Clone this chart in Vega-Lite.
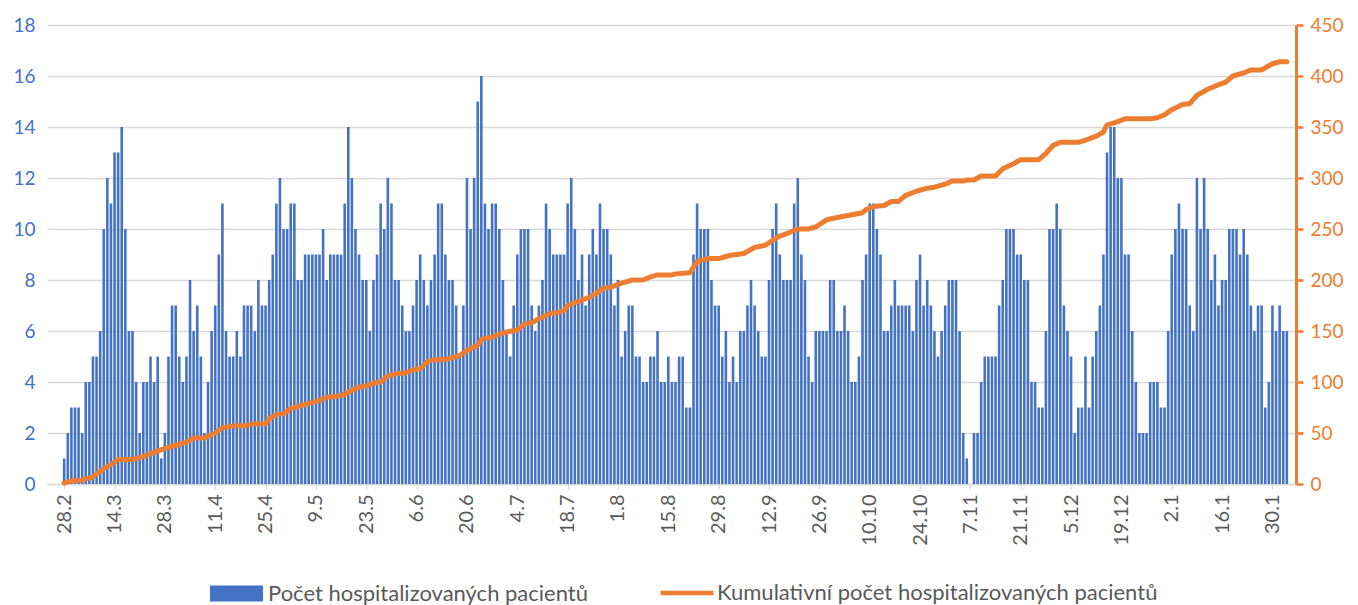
{
  "$schema": "https://vega.github.io/schema/vega-lite/v6.json",
  "width": 1249,
  "height": 459,
  "autosize": {"type": "none"},
  "padding": {"left": 47, "top": 25, "right": 62, "bottom": 121},
  "background": "white",
  "config": {"view": {"stroke": null}, "font": "Lato"},
  "datasets": {
    "bars": [
      {"date":"2021-02-28","n":1},
      {"date":"2021-03-01","n":2},{"date":"2021-03-02","n":3},{"date":"2021-03-03","n":3},{"date":"2021-03-04","n":3},{"date":"2021-03-05","n":2},{"date":"2021-03-06","n":4},{"date":"2021-03-07","n":4},{"date":"2021-03-08","n":5},{"date":"2021-03-09","n":5},{"date":"2021-03-10","n":6},
      {"date":"2021-03-11","n":10},{"date":"2021-03-12","n":12},{"date":"2021-03-13","n":11},{"date":"2021-03-14","n":13},{"date":"2021-03-15","n":13},{"date":"2021-03-16","n":14},{"date":"2021-03-17","n":10},{"date":"2021-03-18","n":6},{"date":"2021-03-19","n":6},{"date":"2021-03-20","n":4},
      {"date":"2021-03-21","n":2},{"date":"2021-03-22","n":4},{"date":"2021-03-23","n":4},{"date":"2021-03-24","n":5},{"date":"2021-03-25","n":4},{"date":"2021-03-26","n":5},{"date":"2021-03-27","n":1},{"date":"2021-03-28","n":2},{"date":"2021-03-29","n":5},{"date":"2021-03-30","n":7},{"date":"2021-03-31","n":7},
      {"date":"2021-04-01","n":5},{"date":"2021-04-02","n":4},{"date":"2021-04-03","n":5},{"date":"2021-04-04","n":8},{"date":"2021-04-05","n":6},{"date":"2021-04-06","n":7},{"date":"2021-04-07","n":5},{"date":"2021-04-08","n":2},{"date":"2021-04-09","n":4},{"date":"2021-04-10","n":6},
      {"date":"2021-04-11","n":7},{"date":"2021-04-12","n":9},{"date":"2021-04-13","n":11},{"date":"2021-04-14","n":6},{"date":"2021-04-15","n":5},{"date":"2021-04-16","n":5},{"date":"2021-04-17","n":6},{"date":"2021-04-18","n":5},{"date":"2021-04-19","n":7},{"date":"2021-04-20","n":7},
      {"date":"2021-04-21","n":7},{"date":"2021-04-22","n":6},{"date":"2021-04-23","n":8},{"date":"2021-04-24","n":7},{"date":"2021-04-25","n":7},{"date":"2021-04-26","n":8},{"date":"2021-04-27","n":9},{"date":"2021-04-28","n":11},{"date":"2021-04-29","n":12},{"date":"2021-04-30","n":10},
      {"date":"2021-05-01","n":10},{"date":"2021-05-02","n":11},{"date":"2021-05-03","n":11},{"date":"2021-05-04","n":8},{"date":"2021-05-05","n":8},{"date":"2021-05-06","n":9},{"date":"2021-05-07","n":9},{"date":"2021-05-08","n":9},{"date":"2021-05-09","n":9},{"date":"2021-05-10","n":9},
      {"date":"2021-05-11","n":10},{"date":"2021-05-12","n":8},{"date":"2021-05-13","n":9},{"date":"2021-05-14","n":9},{"date":"2021-05-15","n":9},{"date":"2021-05-16","n":9},{"date":"2021-05-17","n":11},{"date":"2021-05-18","n":14},{"date":"2021-05-19","n":12},{"date":"2021-05-20","n":10},
      {"date":"2021-05-21","n":9},{"date":"2021-05-22","n":8},{"date":"2021-05-23","n":8},{"date":"2021-05-24","n":6},{"date":"2021-05-25","n":8},{"date":"2021-05-26","n":9},{"date":"2021-05-27","n":11},{"date":"2021-05-28","n":10},{"date":"2021-05-29","n":12},{"date":"2021-05-30","n":11},{"date":"2021-05-31","n":8},
      {"date":"2021-06-01","n":8},{"date":"2021-06-02","n":7},{"date":"2021-06-03","n":6},{"date":"2021-06-04","n":6},{"date":"2021-06-05","n":7},{"date":"2021-06-06","n":8},{"date":"2021-06-07","n":9},{"date":"2021-06-08","n":8},{"date":"2021-06-09","n":7},{"date":"2021-06-10","n":8},
      {"date":"2021-06-11","n":9},{"date":"2021-06-12","n":11},{"date":"2021-06-13","n":11},{"date":"2021-06-14","n":9},{"date":"2021-06-15","n":8},{"date":"2021-06-16","n":8},{"date":"2021-06-17","n":7},{"date":"2021-06-18","n":5},{"date":"2021-06-19","n":7},{"date":"2021-06-20","n":12},
      {"date":"2021-06-21","n":10},{"date":"2021-06-22","n":12},{"date":"2021-06-23","n":15},{"date":"2021-06-24","n":16},{"date":"2021-06-25","n":11},{"date":"2021-06-26","n":10},{"date":"2021-06-27","n":11},{"date":"2021-06-28","n":11},{"date":"2021-06-29","n":10},{"date":"2021-06-30","n":8},
      {"date":"2021-07-01","n":6},{"date":"2021-07-02","n":5},{"date":"2021-07-03","n":7},{"date":"2021-07-04","n":9},{"date":"2021-07-05","n":10},{"date":"2021-07-06","n":10},{"date":"2021-07-07","n":10},{"date":"2021-07-08","n":7},{"date":"2021-07-09","n":6},{"date":"2021-07-10","n":7},
      {"date":"2021-07-11","n":8},{"date":"2021-07-12","n":11},{"date":"2021-07-13","n":10},{"date":"2021-07-14","n":9},{"date":"2021-07-15","n":9},{"date":"2021-07-16","n":9},{"date":"2021-07-17","n":9},{"date":"2021-07-18","n":11},{"date":"2021-07-19","n":12},{"date":"2021-07-20","n":10},
      {"date":"2021-07-21","n":8},{"date":"2021-07-22","n":9},{"date":"2021-07-23","n":7},{"date":"2021-07-24","n":9},{"date":"2021-07-25","n":10},{"date":"2021-07-26","n":9},{"date":"2021-07-27","n":11},{"date":"2021-07-28","n":10},{"date":"2021-07-29","n":10},{"date":"2021-07-30","n":9},{"date":"2021-07-31","n":7},
      {"date":"2021-08-01","n":8},{"date":"2021-08-02","n":5},{"date":"2021-08-03","n":6},{"date":"2021-08-04","n":7},{"date":"2021-08-05","n":7},{"date":"2021-08-06","n":5},{"date":"2021-08-07","n":5},{"date":"2021-08-08","n":4},{"date":"2021-08-09","n":4},{"date":"2021-08-10","n":5},
      {"date":"2021-08-11","n":5},{"date":"2021-08-12","n":6},{"date":"2021-08-13","n":4},{"date":"2021-08-14","n":4},{"date":"2021-08-15","n":5},{"date":"2021-08-16","n":4},{"date":"2021-08-17","n":4},{"date":"2021-08-18","n":5},{"date":"2021-08-19","n":5},{"date":"2021-08-20","n":3},
      {"date":"2021-08-21","n":3},{"date":"2021-08-22","n":9},{"date":"2021-08-23","n":11},{"date":"2021-08-24","n":10},{"date":"2021-08-25","n":10},{"date":"2021-08-26","n":10},{"date":"2021-08-27","n":8},{"date":"2021-08-28","n":7},{"date":"2021-08-29","n":7},{"date":"2021-08-30","n":5},{"date":"2021-08-31","n":6},
      {"date":"2021-09-01","n":4},{"date":"2021-09-02","n":5},{"date":"2021-09-03","n":4},{"date":"2021-09-04","n":6},{"date":"2021-09-05","n":6},{"date":"2021-09-06","n":7},{"date":"2021-09-07","n":8},{"date":"2021-09-08","n":7},{"date":"2021-09-09","n":6},{"date":"2021-09-10","n":5},
      {"date":"2021-09-11","n":5},{"date":"2021-09-12","n":8},{"date":"2021-09-13","n":10},{"date":"2021-09-14","n":11},{"date":"2021-09-15","n":9},{"date":"2021-09-16","n":8},{"date":"2021-09-17","n":8},{"date":"2021-09-18","n":8},{"date":"2021-09-19","n":11},{"date":"2021-09-20","n":12},
      {"date":"2021-09-21","n":9},{"date":"2021-09-22","n":8},{"date":"2021-09-23","n":5},{"date":"2021-09-24","n":4},{"date":"2021-09-25","n":6},{"date":"2021-09-26","n":6},{"date":"2021-09-27","n":6},{"date":"2021-09-28","n":6},{"date":"2021-09-29","n":8},{"date":"2021-09-30","n":8},
      {"date":"2021-10-01","n":6},{"date":"2021-10-02","n":6},{"date":"2021-10-03","n":7},{"date":"2021-10-04","n":6},{"date":"2021-10-05","n":4},{"date":"2021-10-06","n":4},{"date":"2021-10-07","n":5},{"date":"2021-10-08","n":8},{"date":"2021-10-09","n":9},{"date":"2021-10-10","n":11},
      {"date":"2021-10-11","n":11},{"date":"2021-10-12","n":10},{"date":"2021-10-13","n":9},{"date":"2021-10-14","n":6},{"date":"2021-10-15","n":6},{"date":"2021-10-16","n":7},{"date":"2021-10-17","n":8},{"date":"2021-10-18","n":7},{"date":"2021-10-19","n":7},{"date":"2021-10-20","n":7},
      {"date":"2021-10-21","n":7},{"date":"2021-10-22","n":6},{"date":"2021-10-23","n":8},{"date":"2021-10-24","n":9},{"date":"2021-10-25","n":7},{"date":"2021-10-26","n":8},{"date":"2021-10-27","n":7},{"date":"2021-10-28","n":6},{"date":"2021-10-29","n":5},{"date":"2021-10-30","n":6},{"date":"2021-10-31","n":7},
      {"date":"2021-11-01","n":8},{"date":"2021-11-02","n":8},{"date":"2021-11-03","n":8},{"date":"2021-11-04","n":6},{"date":"2021-11-05","n":2},{"date":"2021-11-06","n":1},{"date":"2021-11-07","n":0},{"date":"2021-11-08","n":2},{"date":"2021-11-09","n":2},{"date":"2021-11-10","n":4},
      {"date":"2021-11-11","n":5},{"date":"2021-11-12","n":5},{"date":"2021-11-13","n":5},{"date":"2021-11-14","n":5},{"date":"2021-11-15","n":7},{"date":"2021-11-16","n":8},{"date":"2021-11-17","n":10},{"date":"2021-11-18","n":10},{"date":"2021-11-19","n":10},{"date":"2021-11-20","n":9},
      {"date":"2021-11-21","n":9},{"date":"2021-11-22","n":8},{"date":"2021-11-23","n":8},{"date":"2021-11-24","n":4},{"date":"2021-11-25","n":4},{"date":"2021-11-26","n":3},{"date":"2021-11-27","n":3},{"date":"2021-11-28","n":6},{"date":"2021-11-29","n":10},{"date":"2021-11-30","n":10},
      {"date":"2021-12-01","n":11},{"date":"2021-12-02","n":10},{"date":"2021-12-03","n":7},{"date":"2021-12-04","n":6},{"date":"2021-12-05","n":5},{"date":"2021-12-06","n":2},{"date":"2021-12-07","n":3},{"date":"2021-12-08","n":3},{"date":"2021-12-09","n":5},{"date":"2021-12-10","n":3},
      {"date":"2021-12-11","n":5},{"date":"2021-12-12","n":6},{"date":"2021-12-13","n":7},{"date":"2021-12-14","n":9},{"date":"2021-12-15","n":13},{"date":"2021-12-16","n":14},{"date":"2021-12-17","n":14},{"date":"2021-12-18","n":12},{"date":"2021-12-19","n":12},{"date":"2021-12-20","n":9},
      {"date":"2021-12-21","n":9},{"date":"2021-12-22","n":6},{"date":"2021-12-23","n":4},{"date":"2021-12-24","n":2},{"date":"2021-12-25","n":2},{"date":"2021-12-26","n":2},{"date":"2021-12-27","n":4},{"date":"2021-12-28","n":4},{"date":"2021-12-29","n":4},{"date":"2021-12-30","n":3},{"date":"2021-12-31","n":3},
      {"date":"2022-01-01","n":6},{"date":"2022-01-02","n":9},{"date":"2022-01-03","n":10},{"date":"2022-01-04","n":11},{"date":"2022-01-05","n":10},{"date":"2022-01-06","n":10},{"date":"2022-01-07","n":7},{"date":"2022-01-08","n":6},{"date":"2022-01-09","n":12},{"date":"2022-01-10","n":10},
      {"date":"2022-01-11","n":12},{"date":"2022-01-12","n":10},{"date":"2022-01-13","n":8},{"date":"2022-01-14","n":9},{"date":"2022-01-15","n":7},{"date":"2022-01-16","n":8},{"date":"2022-01-17","n":8},{"date":"2022-01-18","n":10},{"date":"2022-01-19","n":10},{"date":"2022-01-20","n":10},
      {"date":"2022-01-21","n":9},{"date":"2022-01-22","n":10},{"date":"2022-01-23","n":9},{"date":"2022-01-24","n":7},{"date":"2022-01-25","n":6},{"date":"2022-01-26","n":7},{"date":"2022-01-27","n":7},{"date":"2022-01-28","n":3},{"date":"2022-01-29","n":4},{"date":"2022-01-30","n":7},{"date":"2022-01-31","n":6},
      {"date":"2022-02-01","n":7},{"date":"2022-02-02","n":6},{"date":"2022-02-03","n":6}
    ],
    "cum": [
      {"date":"2021-02-28","c":1},{"date":"2021-03-02","c":3},{"date":"2021-03-05","c":4},{"date":"2021-03-08","c":7},{"date":"2021-03-11","c":15},{"date":"2021-03-13","c":19},{"date":"2021-03-15","c":24},{"date":"2021-03-19","c":24},{"date":"2021-03-22","c":27},{"date":"2021-03-25","c":31},{"date":"2021-03-28","c":35},{"date":"2021-03-30","c":37},
      {"date":"2021-04-01","c":39},{"date":"2021-04-03","c":41},{"date":"2021-04-05","c":45},{"date":"2021-04-08","c":45},{"date":"2021-04-11","c":50},{"date":"2021-04-13","c":55},{"date":"2021-04-16","c":57},{"date":"2021-04-19","c":57},{"date":"2021-04-22","c":59},{"date":"2021-04-25","c":59},{"date":"2021-04-26","c":64},{"date":"2021-04-28","c":68},{"date":"2021-04-30","c":69},
      {"date":"2021-05-02","c":74},{"date":"2021-05-04","c":76},{"date":"2021-05-07","c":79},{"date":"2021-05-10","c":82},{"date":"2021-05-12","c":85},{"date":"2021-05-15","c":86},{"date":"2021-05-17","c":88},{"date":"2021-05-19","c":92},{"date":"2021-05-21","c":95},{"date":"2021-05-23","c":96},{"date":"2021-05-25","c":99},{"date":"2021-05-27","c":100},{"date":"2021-05-29","c":106},{"date":"2021-05-31","c":108},
      {"date":"2021-06-03","c":109},{"date":"2021-06-05","c":112},{"date":"2021-06-07","c":113},{"date":"2021-06-09","c":120},{"date":"2021-06-11","c":122},{"date":"2021-06-14","c":122},{"date":"2021-06-16","c":124},{"date":"2021-06-18","c":126},{"date":"2021-06-20","c":131},{"date":"2021-06-23","c":136},{"date":"2021-06-24","c":142},{"date":"2021-06-27","c":144},{"date":"2021-06-29","c":147},
      {"date":"2021-07-01","c":149},{"date":"2021-07-04","c":151},{"date":"2021-07-06","c":157},{"date":"2021-07-08","c":158},{"date":"2021-07-10","c":162},{"date":"2021-07-13","c":167},{"date":"2021-07-15","c":168},{"date":"2021-07-17","c":170},{"date":"2021-07-18","c":175},{"date":"2021-07-21","c":179},{"date":"2021-07-24","c":183},{"date":"2021-07-26","c":187},{"date":"2021-07-28","c":192},{"date":"2021-07-30","c":193},
      {"date":"2021-08-02","c":197},{"date":"2021-08-05","c":200},{"date":"2021-08-08","c":200},{"date":"2021-08-10","c":203},{"date":"2021-08-12","c":205},{"date":"2021-08-14","c":205},{"date":"2021-08-16","c":205},{"date":"2021-08-17","c":206},{"date":"2021-08-21","c":207},{"date":"2021-08-23","c":218},{"date":"2021-08-26","c":221},{"date":"2021-08-29","c":221},
      {"date":"2021-09-01","c":224},{"date":"2021-09-05","c":226},{"date":"2021-09-08","c":232},{"date":"2021-09-11","c":234},{"date":"2021-09-13","c":239},{"date":"2021-09-15","c":243},{"date":"2021-09-18","c":247},{"date":"2021-09-20","c":250},{"date":"2021-09-23","c":250},{"date":"2021-09-25","c":252},{"date":"2021-09-28","c":259},
      {"date":"2021-10-02","c":262},{"date":"2021-10-05","c":264},{"date":"2021-10-08","c":266},{"date":"2021-10-09","c":269},{"date":"2021-10-11","c":272},{"date":"2021-10-14","c":273},{"date":"2021-10-16","c":277},{"date":"2021-10-18","c":277},{"date":"2021-10-20","c":283},{"date":"2021-10-23","c":287},{"date":"2021-10-26","c":290},{"date":"2021-10-28","c":291},{"date":"2021-10-31","c":294},
      {"date":"2021-11-02","c":297},{"date":"2021-11-05","c":297},{"date":"2021-11-06","c":298},{"date":"2021-11-08","c":298},{"date":"2021-11-10","c":302},{"date":"2021-11-14","c":302},{"date":"2021-11-16","c":309},{"date":"2021-11-19","c":314},{"date":"2021-11-21","c":318},{"date":"2021-11-26","c":318},{"date":"2021-11-28","c":324},{"date":"2021-11-30","c":332},
      {"date":"2021-12-02","c":335},{"date":"2021-12-04","c":335},{"date":"2021-12-07","c":335},{"date":"2021-12-09","c":337},{"date":"2021-12-12","c":341},{"date":"2021-12-14","c":345},{"date":"2021-12-15","c":352},{"date":"2021-12-17","c":354},{"date":"2021-12-20","c":358},{"date":"2021-12-27","c":358},{"date":"2021-12-29","c":359},{"date":"2021-12-31","c":362},
      {"date":"2022-01-02","c":367},{"date":"2022-01-05","c":372},{"date":"2022-01-07","c":373},{"date":"2022-01-09","c":381},{"date":"2022-01-12","c":387},{"date":"2022-01-14","c":390},{"date":"2022-01-17","c":394},{"date":"2022-01-19","c":400},{"date":"2022-01-22","c":403},{"date":"2022-01-24","c":406},{"date":"2022-01-27","c":406},{"date":"2022-01-30","c":412},
      {"date":"2022-02-01","c":414},{"date":"2022-02-03","c":414}
    ]
  },
  "layer": [
    {
      "data": {"name": "bars"},
      "mark": {"type": "bar", "width": 2.6, "color": "#4472C4"},
      "encoding": {
        "x": {
          "field": "date", "type": "temporal",
          "scale": {"type": "utc", "domain": [
            {"year": 2021, "month": 2, "date": 24, "hours": 14, "minutes": 36, "utc": true},
            {"year": 2022, "month": 2, "date": 4, "hours": 3, "minutes": 50, "utc": true}
          ]},
          "axis": {
            "title": null,
            "values": [
              {"year": 2021, "month": 2, "date": 28, "utc": true},
              {"year": 2021, "month": 3, "date": 14, "utc": true},
              {"year": 2021, "month": 3, "date": 28, "utc": true},
              {"year": 2021, "month": 4, "date": 11, "utc": true},
              {"year": 2021, "month": 4, "date": 25, "utc": true},
              {"year": 2021, "month": 5, "date": 9, "utc": true},
              {"year": 2021, "month": 5, "date": 23, "utc": true},
              {"year": 2021, "month": 6, "date": 6, "utc": true},
              {"year": 2021, "month": 6, "date": 20, "utc": true},
              {"year": 2021, "month": 7, "date": 4, "utc": true},
              {"year": 2021, "month": 7, "date": 18, "utc": true},
              {"year": 2021, "month": 8, "date": 1, "utc": true},
              {"year": 2021, "month": 8, "date": 15, "utc": true},
              {"year": 2021, "month": 8, "date": 29, "utc": true},
              {"year": 2021, "month": 9, "date": 12, "utc": true},
              {"year": 2021, "month": 9, "date": 26, "utc": true},
              {"year": 2021, "month": 10, "date": 10, "utc": true},
              {"year": 2021, "month": 10, "date": 24, "utc": true},
              {"year": 2021, "month": 11, "date": 7, "utc": true},
              {"year": 2021, "month": 11, "date": 21, "utc": true},
              {"year": 2021, "month": 12, "date": 5, "utc": true},
              {"year": 2021, "month": 12, "date": 19, "utc": true},
              {"year": 2022, "month": 1, "date": 2, "utc": true},
              {"year": 2022, "month": 1, "date": 16, "utc": true},
              {"year": 2022, "month": 1, "date": 30, "utc": true}
            ],
            "labelExpr": "utcFormat(datum.value, '%-d.%-m')",
            "labelAngle": -90,
            "labelFontSize": 20,
            "labelColor": "#595959",
            "labelPadding": 5,
            "labelOverlap": false,
            "domainColor": "#D9D9D9",
            "domainWidth": 1.3,
            "tickColor": "#D9D9D9",
            "tickSize": 5,
            "grid": false
          }
        },
        "y": {
          "field": "n", "type": "quantitative",
          "scale": {"domain": [0, 18], "nice": false},
          "axis": {
            "title": null,
            "values": [0, 2, 4, 6, 8, 10, 12, 14, 16, 18],
            "labelColor": "#4472C4",
            "labelFontSize": 19,
            "labelPadding": 12,
            "domain": false,
            "ticks": false,
            "grid": true,
            "gridColor": "#D9D9D9",
            "gridWidth": 1.3
          }
        },
        "fill": {
          "datum": "Počet hospitalizovaných pacientů", "type": "nominal",
          "scale": {"range": ["#4472C4"]},
          "legend": {
            "title": null,
            "orient": "none",
            "legendX": 163,
            "legendY": 542,
            "padding": 0,
            "symbolType": "M-1,-0.3H1V0.3H-1Z",
            "symbolSize": 2809,
            "symbolStrokeWidth": 0,
            "labelFontSize": 22,
            "labelColor": "#595959",
            "labelOffset": 5,
            "labelLimit": 0
          }
        }
      }
    },
    {
      "data": {"name": "cum"},
      "mark": {"type": "line", "strokeWidth": 5, "strokeCap": "round", "strokeJoin": "round"},
      "encoding": {
        "x": {"field": "date", "type": "temporal"},
        "y": {
          "field": "c", "type": "quantitative",
          "scale": {"domain": [0, 450], "nice": false},
          "axis": {
            "orient": "right",
            "title": null,
            "values": [0, 50, 100, 150, 200, 250, 300, 350, 400, 450],
            "labelColor": "#ED7D31",
            "labelFontSize": 19,
            "labelPadding": 7,
            "domainColor": "#ED7D31",
            "domainWidth": 3,
            "tickColor": "#ED7D31",
            "tickWidth": 2.5,
            "tickSize": 7,
            "grid": false
          }
        },
        "stroke": {
          "datum": "Kumulativní počet hospitalizovaných pacientů", "type": "nominal",
          "scale": {"range": ["#ED7D31"]},
          "legend": {
            "title": null,
            "orient": "none",
            "legendX": 611,
            "legendY": 539,
            "padding": 0,
            "symbolType": "stroke",
            "symbolSize": 2809,
            "symbolStrokeWidth": 4.5,
            "labelFontSize": 22,
            "labelColor": "#595959",
            "labelOffset": 1,
            "labelLimit": 0
          }
        }
      }
    }
  ],
  "resolve": {"scale": {"y": "independent"}}
}
